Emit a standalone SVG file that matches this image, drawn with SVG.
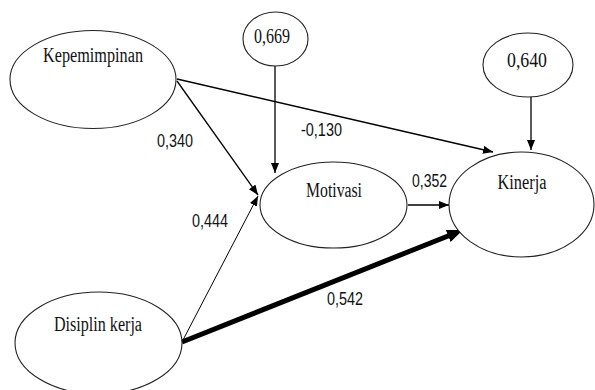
<svg xmlns="http://www.w3.org/2000/svg" width="595" height="390" viewBox="0 0 595 390">
<style>
.node{fill:#fff;stroke:#222;stroke-width:1.1}
.lbl{font-family:"Liberation Serif","Times New Roman",serif;font-size:20px;fill:#111;text-anchor:middle}
.num{font-family:"Liberation Sans Narrow","Liberation Sans",Arial,sans-serif;font-size:19px;fill:#111;text-anchor:middle}
.edge{stroke:#000;stroke-width:1.3;fill:none;marker-end:url(#ah)}
</style>
<defs>
<marker id="ah" markerUnits="userSpaceOnUse" markerWidth="12" markerHeight="10" refX="10" refY="4" orient="auto"><path d="M0,0 L10,4 L0,8 z" fill="#000"/></marker>
<marker id="ahb" markerUnits="userSpaceOnUse" markerWidth="18" markerHeight="14" refX="6" refY="6.5" orient="auto"><path d="M0,0 L16,6.5 L0,13 z" fill="#000"/></marker>
</defs>
<rect width="595" height="390" fill="#fff"/>
<g id="connectors">
<line class="edge" x1="177" y1="81" x2="258" y2="195"/>
<line class="edge" x1="177" y1="79" x2="493" y2="152"/>
<line class="edge" x1="275" y1="66" x2="275" y2="173"/>
<line class="edge" x1="531" y1="97" x2="531" y2="150"/>
<line class="edge" x1="408" y1="205" x2="449" y2="205"/>
<line class="edge" style="stroke-width:1" x1="183" y1="340" x2="258" y2="196"/>
<line x1="182" y1="342" x2="453.7" y2="233.7" stroke="#000" stroke-width="5" marker-end="url(#ahb)"/>
<text class="num" x="175" y="147" textLength="36" lengthAdjust="spacingAndGlyphs">0,340</text>
<text class="num" x="321.5" y="136" textLength="41" lengthAdjust="spacingAndGlyphs">-0,130</text>
<text class="num" x="429.5" y="187" textLength="35" lengthAdjust="spacingAndGlyphs">0,352</text>
<text class="num" x="210" y="227" textLength="36" lengthAdjust="spacingAndGlyphs">0,444</text>
<text class="num" x="345" y="305" textLength="36" lengthAdjust="spacingAndGlyphs">0,542</text>
</g>
<g id="kepemimpinan">
<ellipse class="node" cx="93" cy="79.5" rx="83" ry="49"/>
<text class="lbl" x="93" y="62" textLength="100" lengthAdjust="spacingAndGlyphs">Kepemimpinan</text>
</g>
<g id="e669">
<ellipse class="node" cx="275.5" cy="39" rx="32.5" ry="27"/>
<text class="lbl" x="272" y="43" textLength="36" lengthAdjust="spacingAndGlyphs">0,669</text>
</g>
<g id="e640">
<ellipse class="node" cx="528" cy="65" rx="45" ry="32"/>
<text class="lbl" x="527" y="67" textLength="40" lengthAdjust="spacingAndGlyphs">0,640</text>
</g>
<g id="motivasi">
<ellipse class="node" cx="333.5" cy="205" rx="73.5" ry="43"/>
<text class="lbl" x="334" y="197" textLength="56" lengthAdjust="spacingAndGlyphs">Motivasi</text>
</g>
<g id="kinerja">
<ellipse class="node" cx="521.5" cy="204.5" rx="72.5" ry="52.5"/>
<text class="lbl" x="522" y="189" textLength="49" lengthAdjust="spacingAndGlyphs">Kinerja</text>
</g>
<g id="disiplin">
<ellipse class="node" cx="98.5" cy="343" rx="83.5" ry="51"/>
<text class="lbl" x="98" y="331" textLength="88" lengthAdjust="spacingAndGlyphs">Disiplin kerja</text>
</g>
</svg>
